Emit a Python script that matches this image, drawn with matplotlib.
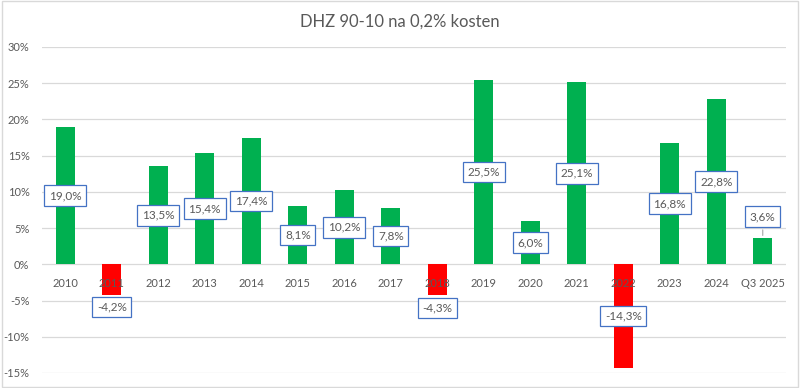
import matplotlib.pyplot as plt
import numpy as np

years = ["2010", "2011", "2012", "2013", "2014", "2015", "2016", "2017",
         "2018", "2019", "2020", "2021", "2022", "2023", "2024", "Q3 2025"]
returns = [19.0, -4.2, 13.5, 15.4, 17.4, 8.1, 10.2, 7.8,
           -4.3, 25.5, 6.0, 25.1, -14.3, 16.8, 22.8, 3.6]
yticks = [-15, -10, -5, 0, 5, 10, 15, 20, 25, 30]

GREEN = "#00B050"
RED = "#FF0000"
GREY = "#595959"

plt.rcParams["font.family"] = ["Lato", "DejaVu Sans"]

fig = plt.figure(figsize=(8, 3.88), dpi=100)
ax = fig.add_axes([0.0525, 0.0387, 0.93, 0.8403])

x = np.arange(len(years))
colors = [GREEN if v >= 0 else RED for v in returns]
ax.bar(x, returns, width=0.4, color=colors, zorder=2)

ax.set_xlim(-0.5, len(years) - 0.5)
ax.set_ylim(-15, 30)
ax.set_yticks(yticks)
ax.set_yticklabels([f"{t}%" for t in yticks], color=GREY, fontsize=8)
ax.tick_params(axis="y", length=0, pad=9)
ax.set_xticks([])
ax.grid(axis="y", color="#D9D9D9", linewidth=0.9, zorder=0)
for s in ax.spines.values():
    s.set_visible(False)

# category labels next to the zero line
for xi, lab in zip(x, years):
    ax.annotate(lab, (xi, 0), xytext=(0, -14), textcoords="offset points",
                ha="center", va="center", color=GREY, fontsize=8, zorder=3)

box = dict(boxstyle="square,pad=0.4", fc="white", ec="#4472C4", lw=0.9)
for xi, v in zip(x, returns):
    txt = f"{v:.1f}%".replace(".", ",")
    if xi == len(years) - 1:
        # small bar: label moved up with a leader line
        ax.annotate(txt, (xi, v), xytext=(xi, 6.6), ha="center", va="center",
                    color=GREY, fontsize=8.5, bbox=box, zorder=4,
                    arrowprops=dict(arrowstyle="-", color="#A6A6A6", lw=0.8))
    elif v < 0 and v > -5:
        ax.text(xi, v - 1.7, txt, ha="center", va="center", color=GREY,
                fontsize=8.5, bbox=box, zorder=4)
    else:
        ax.text(xi, v / 2, txt, ha="center", va="center", color=GREY,
                fontsize=8.5, bbox=box, zorder=4)

fig.text(0.5, 0.943, "DHZ 90-10 na 0,2% kosten", ha="center", va="center",
         color=GREY, fontsize=12)

# light chart border
fig.patches.append(plt.Rectangle((0.002, 0.003), 0.996, 0.994,
                                 transform=fig.transFigure, fill=False,
                                 ec="#D9D9D9", lw=1))

fig.savefig("out.png", dpi=100)
